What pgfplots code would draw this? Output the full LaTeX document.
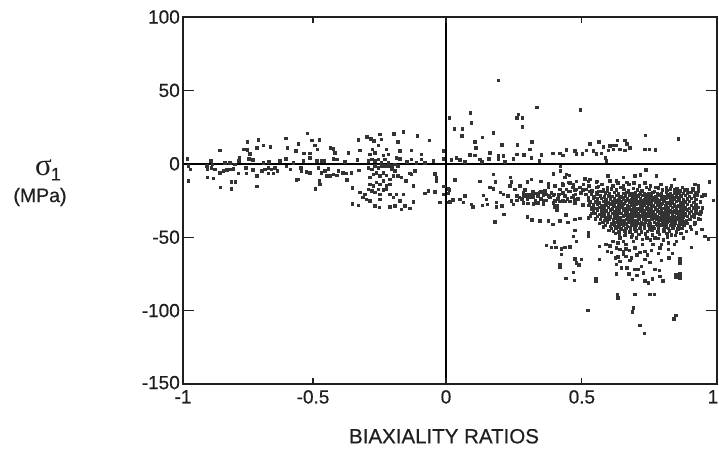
\documentclass[border=0pt]{standalone}
\usepackage{fontspec}
\setmainfont[FakeBold=0.35]{Liberation Sans}
\newfontfamily\lab[FakeBold=0.5]{Liberation Sans}
\newfontfamily\serifsym{Liberation Serif}
\usepackage{pgfplots}
\pgfplotsset{compat=1.18}
\definecolor{ink}{gray}{0.12}
\begin{document}
\begin{tikzpicture}[x=1pt,y=1pt]
\useasboundingbox (0,0) rectangle (719,450);
\begin{axis}[
  at={(183pt,66pt)}, anchor=south west, scale only axis, width=534pt, height=367pt,
  xmin=-1, xmax=1, ymin=-150, ymax=100,
  xtick=\empty,
  ytick={-150,-100,-50,0,50,100},
  yticklabels={\raisebox{3pt}{-150},-100,-50,0,50,100},
  major tick length=11pt,
  tick align=inside,
  tick style={line width=1.1pt,color=ink},
  axis line style={line width=1.3pt,color=ink},
  yticklabel style={font=\lab\fontsize{19}{22}\selectfont,text=ink,inner sep=0pt,xshift=-3pt},
  clip=false,
]
\addplot[only marks, mark=square*, mark size=1.25pt, color=black!80, mark options={line width=0pt}] coordinates {
(-.984,3.4)(-.980,-1.6)(-.971,-3.9)(-.980,-11.8)(-.909,-3.9)(-.896,1.8)(-.889,-.5)(-.893,-2.7)(-.911,-1.6)(-.880,-3.9)(-.908,-9.5)(-.886,-10)(-.861,9.1)(-.859,-16.3)(-.818,-17)(-.818,-12.5)(-.803,-12.5)(-.843,.7)(-.824,.7)(-.861,-6.1)(-.849,-5)(-.836,-4.3)(-.824,-3.9)(-.811,-3.4)(-.793,-6.6)(-.805,-.5)(-.789,4.1)(-.790,1.8)(-.772,9.8)(-.759,9.3)(-.758,14.7)(-.749,6.8)(-.753,3.4)(-.737,2.5)(-.722,10.9)(-.717,16.1)(-.698,12.5)(-.672,11.6)(-.722,-8.4)(-.722,-15.6)(-.764,-2.7)(-.762,-6.6)(-.737,-4.3)(-.705,-5)(-.693,-3.9)(-.680,-2.7)(-.668,-3.9)(-.655,-2.7)(-.647,-5)(-.662,-6.6)(-.680,-6.6)(-.699,.7)(-.677,1.1)(-.637,1.8)(-.615,17.2)(-.609,10.9)(-.614,3.4)(-.612,-2)(-.597,-3.9)(-.574,-11.1)(-.568,-10.7)(-.577,8.6)(-.568,13.6)(-.587,.7)(-.559,-2.7)(-.556,-5)(-.549,1.8)(-.547,7)(-.534,20.6)(-.524,7)(-.516,15.9)(-.506,12.5)(-.497,9.8)(-.489,16.1)(-.524,4.1)(-.537,-5.7)(-.524,-6.1)(-.503,-17)(-.489,-11.8)(-.487,-14.1)(-.499,1.8)(-.481,1.8)(-.472,1.8)(-.493,-2.7)(-.481,-6.1)(-.468,-5)(-.456,-3.4)(-.462,-8.4)(-.449,-8.4)(-.437,-7.3)(-.424,-7.9)(-.418,-5)(-.447,10.9)(-.437,10.2)(-.431,7.5)(-.437,3.4)(-.424,2.9)(-.393,1.1)(-.381,7.5)(-.4,-6.1)(-.387,-6.6)(-.368,-6.1)(-.385,-11.1)(-.366,-16.6)(-.343,16.1)(-.337,9.1)(-.347,2.5)(-.340,-4.5)(-.310,18.1)(-.296,17)(-.262,20)(-.256,16.6)(-.285,15.4)(-.268,12.5)(-.291,9.8)(-.3,6.3)(-.281,7.5)(-.237,9.8)(-.231,6.3)(-.250,5.7)(-.210,20.4)(-.175,21.8)(-.194,14.7)(-.187,8.6)(-.2,4.1)(-.187,3.4)(-.144,9.1)(-.122,18.8)(-.077,15.9)(-.106,6.3)(-.106,2.9)(-.144,2.9)(-.162,1.1)(-.125,.7)(-.094,.7)(-.062,1.8)(-.025,8.6)(-.025,3.4)(-.056,-6.8)(-.05,-11.8)(-.05,-9.5)(-.025,-15.6)(-.006,-17)(-.037,-26.5)(-.006,-26.5)(-.094,-20.2)(-.081,-18.6)(-.056,-19.3)(-.025,-20.9)(-.006,-20.4)(-.137,-15.2)(-.165,-11.8)(-.131,-5)(-.144,-7.3)(-.150,-6.6)(-.137,-26.1)(-.175,-20.9)(-.2,-20.9)(-.212,-23.1)(-.187,-25.4)(-.169,-28.8)(-.150,-30.6)(-.181,-31.1)(-.206,-28.8)(-.225,-29.3)(-.265,-29.9)(-.281,-28.8)(-.343,-28.3)(-.365,-27.4)(-.337,-19.7)(-.318,-20.9)(-.325,-23.1)(-.312,-24.3)(-.3,-25.4)(-.262,-24.3)(-.293,-18.6)(-.306,-17.5)
(-.306,1.8)(-.293,2.9)(-.281,1.8)(-.268,2.9)(-.256,.7)(-.243,2.9)(-.231,.7)(-.218,-1.6)(-.206,-.5)(-.194,-1.6)(-.306,-2.7)(-.293,-3.9)(-.281,-1.6)(-.268,-2.7)(-.256,-2)(-.243,-1.6)(-.231,-2)(-.218,-3.9)(-.206,-5)(-.194,-8.4)(-.181,-9.5)(-.3,-9.5)(-.287,-7.3)(-.275,-6.1)(-.262,-8.4)(-.25,-6.1)(-.237,-7.9)(-.225,-10.7)(-.212,-8.4)(-.3,-14.1)(-.287,-15.2)(-.275,-12.9)(-.262,-14.1)(-.25,-11.8)(-.237,-15.2)(-.225,-14.1)(-.281,-19.7)(-.268,-17.5)(-.25,-17.9)(-.237,-17.5)(-.225,-20.9)(-.262,-20.9)
(.181,56.7)(.325,38.5)(.489,36.7)(.077,34.7)(.081,27.7)(-.002,31.3)(.256,33.6)(.25,31.3)(.271,31.3)(.271,24.9)(.016,23.6)(.046,23.8)(.044,19)(.162,21.1)(.122,17.9)(.094,14.7)(.097,10.9)(.194,12.7)(.252,12.7)(.308,14.7)(.3,9.8)(.150,7.5)(.075,6.1)(.094,5.7)(.181,5.7)(.2,5.2)(.25,6.3)(.277,5.9)(.306,4.1)(.181,3.4)(.146,3.4)(.112,2.9)(.119,1.1)(.006,2.5)(.025,3.9)(.037,2.5)(.056,1.1)(.206,1.1)(.237,3.4)(.335,1.8)(.343,5.9)(.385,7)(.412,7)(.424,5.7)(.437,9.3)(.468,8.6)(.474,6.6)(.497,6.6)(.512,9.1)(.537,8.6)(.549,6.8)(.524,13.4)(.558,14.7)(.574,11.6)(.568,7)(.583,4.1)(.587,1.8)(.599,12)(.612,12.5)(.628,15.9)(.624,12.5)(.655,15.9)(.662,13.6)(.674,10.9)(.655,9.1)(.637,9.8)(.612,9.8)(.593,9.1)(.733,19.3)(.730,9.8)(.747,9.8)(.770,9.3)(.855,17)
(.414,-2)(.414,-5)(.387,-7)(.162,-7.3)(.019,-11.1)(.112,-12.2)(.171,-12.5)(.227,-9.5)(.231,-12.5)(.306,-10.7)(.290,-12.5)(.340,-12.2)(.368,-13.4)(.437,-7.3)(.431,-9.5)(.447,-7.9)(.422,-13.4)(.443,-12.9)(.506,-10.2)(.524,-10.7)(.549,-12.9)(.591,-8.4)(.599,-11.8)(.624,-11.8)(.649,-9.5)(.662,-12.9)(.693,-8.4)(.714,-7.7)(.734,-4.3)(.774,-8.4)(.840,-10.7)(.971,-12.5)(.918,-14.1)(.930,-15.2)(.150,-16.3)(.162,-17)(-.022,-15.6)(-.002,-17.9)(-.025,-20.9)(.012,-24.7)(0,-26.1)(.037,-24.3)(.056,-22)(.05,-26.5)(.081,-27.7)(.087,-29.3)(.125,-21.5)(.137,-24.3)(.122,-28.3)(.141,-27.7)(.175,-26.5)(.175,-29.3)(.194,-28.8)(.2,-20.9)(.19,-19.7)(.225,-15.2)(.243,-17.5)(.262,-15.2)(.218,-22)(.231,-25.4)(.237,-27.7)(.275,-19.7)(.287,-20.9)(.3,-23.1)(.312,-20.9)(.325,-20.2)(.337,-19.7)(.356,-18.6)(.368,-16.3)(.393,-15.2)(.412,-17.5)(.437,-17.5)(.462,-14.1)(.474,-17.5)(.487,-16.3)(.512,-17.5)(.531,-18.6)(.275,-26.5)(.293,-27.2)(.325,-27.2)(.35,-25.4)(.375,-23.1)(.393,-25.4)(.4,-28.8)(.424,-25.4)(.462,-22)(.468,-24.3)(.499,-28.3)(.518,-23.1)(.549,-19.7)(.203,-34.7)(.290,-36.1)(.308,-38.3)(.337,-39)(.368,-39)(.385,-41.3)(.412,-39)(.434,-34.9)(.441,-40.1)(.468,-37.9)(.487,-37.2)(.169,-39.7)(.4,-31.5)(.531,-31.1)(.527,-35.6)(.393,-29.3)
(.25,-22)(.26,-23)(.28,-22)(.3,-21)(.31,-23)(.33,-22)(.29,-24)(.32,-25)(.34,-24)(.36,-21)(.37,-22)(.38,-20)(.27,-24)(.25,-25)(.35,-21)(.39,-21)(.41,-21)(.43,-22)(.45,-19)(.47,-21)(.49,-20)(.46,-16)(.50,-14)(.52,-15)(.55,-16)(.57,-14)(.59,-16)(.61,-15)(.63,-13)(.65,-15)(.67,-14)(.69,-13)(.71,-15)(.73,-13)(.75,-15)(.77,-16)(.79,-14)(.81,-16)(.83,-15)(.85,-17)(.87,-16)(.89,-18)(.91,-17)(.93,-19)(.95,-21)(.92,-20)
(.518,-37)(.468,-45.4)(.462,-49.4)(.474,-52.8)(.518,-47.2)(.518,-49.4)(.362,-55.8)(.381,-56.9)(.397,-56.9)(.391,-53.1)(.418,-58)(.431,-56.9)(.449,-56.7)(.418,-61.9)(.412,-68.9)(.412,-70.3)(.468,-64.9)(.493,-65.3)(.474,-67.6)(.484,-68.9)(.462,-73.9)(.434,-78)(.466,-79.6)(.547,-78.5)(.547,-80)(.559,-65.3)(.559,-56.2)(.584,-55.1)(.589,-59.6)(.605,-60.3)(.624,-57.4)(.637,-58.5)(.659,-58)(.672,-59)(.649,-61.9)(.630,-63.5)(.637,-66.4)(.624,-68.7)(.643,-71)(.662,-71)(.680,-64.2)(.674,-66)(.693,-57.4)(.712,-60.3)(.730,-59.6)(.755,-59)(.787,-57.4)(.818,-58.5)(.834,-61.2)(.730,-65.3)(.749,-67.1)(.793,-65.8)(.861,-64.9)(.861,-67.6)(.718,-69.8)(.693,-72.1)(.705,-72.1)(.724,-74.4)(.768,-72.1)(.784,-72.6)(.787,-76.6)(.797,-80)(.730,-80)(.743,-81.2)(.759,-78.5)(.683,-78.9)(.624,-75.1)(.846,-75.5)(.861,-75.1)(.846,-77.1)(.861,-77.8)(.905,-56.9)(.627,-89.1)(.630,-91.4)(.693,-89.1)(.749,-88.9)(.765,-89.1)(.687,-98.2)(.684,-101.1)(.516,-99.8)(.846,-103.4)(.839,-105.7)(.712,-110.2)(.728,-115.6)
(.637,-50.6)(.630,-54)(.649,-52.8)(.687,-52.8)(.699,-50.6)(.737,-50.6)(.768,-50.6)(.793,-55.1)(.818,-54)(.849,-52.8)(.874,-50.6)(.905,-44.9)(.924,-47.2)(.943,-44.9)(.955,-49.4)(.968,-51.2)(.936,-38.1)(.936,-34.7)(.905,-35.8)(.918,-40.4)(.911,-17.7)(.93,-16.6)(.955,-21.1)(.986,-24.9)(.943,-22.2)
(.275,-21.1)(.293,-21.1)(.312,-20.4)(.331,-21.1)(.350,-21.1)(.368,-22.2)(.387,-21.1)(.406,-21.1)(.424,-20)(.443,-18.8)(.468,-17.7)(.275,-26.8)(.293,-27.2)(.312,-27.4)(.331,-26.8)(.350,-27.4)(.387,-26.8)(.4,-31.3)(.412,-25.6)(.431,-25.6)(.449,-25.6)(.468,-26.8)(.499,-27.9)(.518,-24.5)(.537,-23.4)(.531,-30.2)(.556,-26.8)(.368,-14.3)(.393,-15)(.424,-14.3)(.449,-13.2)(.474,-12)(.518,-12)(.55,-12)(.556,-15.4)(.499,-17.7)(.524,-18.8)
(.623,-18)(.651,-17.5)(.668,-18.6)(.702,-17.8)(.719,-18.4)(.748,-17.4)(.766,-18.7)(.795,-17.9)(.812,-18.3)(.843,-17.6)(.861,-18.5)(.878,-18)
(.582,-20)(.598,-20.5)(.617,-19.7)(.631,-20.6)(.649,-20.1)(.663,-19.6)(.681,-20.7)(.695,-20)(.714,-19.8)(.729,-20.6)(.746,-20.2)(.761,-19.7)(.778,-20.5)(.793,-20.1)(.811,-19.6)(.826,-20.7)(.842,-20)(.858,-19.8)(.875,-20.4)(.889,-20)
(.563,-22)(.579,-22.6)(.593,-21.8)(.608,-22.4)(.626,-21.7)(.641,-22.6)(.657,-22)(.673,-21.6)(.689,-22.5)(.704,-22)(.722,-21.7)(.737,-22.6)(.753,-21.9)(.769,-22.3)(.786,-21.6)(.801,-22.5)(.817,-22)(.834,-21.8)(.849,-22.6)(.866,-22)(.882,-21.6)(.897,-22.4)(.915,-22)
(.552,-24)(.568,-23.6)(.584,-24.5)(.601,-24)(.616,-23.7)(.633,-24.6)(.649,-24)(.665,-23.6)(.681,-24.5)(.696,-24.1)(.713,-23.7)(.729,-24.6)(.745,-24)(.761,-23.6)(.777,-24.4)(.793,-24.1)(.809,-23.6)(.825,-24.5)(.841,-24)(.857,-23.7)(.874,-24.6)(.889,-24)(.905,-23.6)(.922,-24.4)
(.544,-26)(.559,-26.6)(.576,-25.8)(.592,-26.3)(.608,-25.7)(.624,-26.5)(.641,-26)(.657,-25.6)(.673,-26.5)(.689,-26.1)(.705,-25.7)(.721,-26.6)(.737,-26)(.753,-25.7)(.769,-26.4)(.785,-26)(.801,-25.6)(.817,-26.5)(.833,-26.1)(.849,-25.7)(.866,-26.6)(.881,-26)(.897,-25.6)(.914,-26.4)
(.537,-28)(.552,-27.6)(.569,-28.5)(.585,-28.1)(.601,-27.7)(.616,-28.6)(.633,-28)(.649,-27.6)(.665,-28.5)(.681,-28)(.697,-27.7)(.713,-28.6)(.729,-28)(.745,-27.6)(.761,-28.4)(.777,-28.1)(.793,-27.6)(.809,-28.5)(.825,-28)(.841,-27.7)(.857,-28.6)(.873,-28)(.889,-27.6)(.905,-28.4)(.921,-28)
(.532,-30)(.546,-30.6)(.561,-29.8)(.577,-30.3)(.593,-29.7)(.609,-30.6)(.625,-30)(.641,-29.6)(.657,-30.5)(.673,-30.1)(.689,-29.7)(.705,-30.6)(.721,-30)(.737,-29.6)(.753,-30.4)(.769,-30)(.785,-29.6)(.801,-30.5)(.817,-30.1)(.833,-29.7)(.849,-30.6)(.865,-30)(.881,-29.6)(.897,-30.4)(.913,-30)(.928,-29.7)
(.538,-32)(.553,-31.6)(.569,-32.5)(.585,-32.1)(.601,-31.7)(.617,-32.6)(.633,-32)(.649,-31.6)(.665,-32.5)(.681,-32)(.697,-31.7)(.713,-32.6)(.729,-32)(.745,-31.6)(.761,-32.4)(.777,-32.1)(.793,-31.6)(.809,-32.5)(.825,-32)(.841,-31.7)(.857,-32.6)(.873,-32)(.889,-31.6)(.905,-32.4)(.921,-32)
(.543,-34)(.561,-34.6)(.577,-33.8)(.593,-34.3)(.609,-33.7)(.625,-34.6)(.641,-34)(.657,-33.6)(.673,-34.5)(.689,-34.1)(.705,-33.7)(.721,-34.6)(.737,-34)(.753,-33.6)(.769,-34.4)(.785,-34)(.801,-33.6)(.817,-34.5)(.833,-34.1)(.849,-33.7)(.865,-34.6)(.881,-34)(.897,-33.6)(.913,-34.4)(.927,-34)
(.553,-36)(.569,-35.6)(.585,-36.5)(.601,-36.1)(.617,-35.7)(.633,-36.6)(.649,-36)(.665,-35.6)(.681,-36.5)(.697,-36)(.713,-35.7)(.729,-36.6)(.745,-36)(.761,-35.6)(.777,-36.4)(.793,-36.1)(.809,-35.6)(.825,-36.5)(.841,-36)(.857,-35.7)(.873,-36.6)(.889,-36)(.916,-36.4)
(.564,-38)(.581,-38.6)(.597,-37.8)(.613,-38.3)(.629,-37.7)(.645,-38.6)(.661,-38)(.677,-37.6)(.693,-38.5)(.709,-38.1)(.725,-37.7)(.741,-38.6)(.757,-38)(.773,-37.6)(.789,-38.4)(.805,-38)(.821,-37.6)(.837,-38.5)(.853,-38.1)(.869,-37.7)(.885,-38.6)(.899,-38)
(.573,-40)(.589,-39.6)(.605,-40.5)(.621,-40.1)(.637,-39.7)(.653,-40.6)(.669,-40)(.685,-39.6)(.701,-40.5)(.717,-40)(.733,-39.7)(.749,-40.6)(.765,-40)(.781,-39.6)(.797,-40.4)(.813,-40.1)(.829,-39.6)(.845,-40.5)(.861,-40)(.877,-39.7)(.889,-40.6)
(.583,-42)(.601,-42.6)(.617,-41.8)(.633,-42.3)(.649,-41.7)(.665,-42.6)(.681,-42)(.697,-41.6)(.713,-42.5)(.729,-42.1)(.745,-41.7)(.761,-42.6)(.777,-42)(.793,-41.6)(.809,-42.4)(.825,-42)(.841,-41.6)(.857,-42.5)(.877,-42.1)
(.604,-44)(.622,-43.6)(.641,-44.5)(.659,-44.1)(.676,-43.7)(.693,-44.6)(.712,-44)(.729,-43.6)(.748,-44.5)(.765,-44)(.781,-43.7)(.801,-44.6)(.818,-44)(.836,-43.6)(.853,-44.4)(.868,-44.1)
(.612,-46)(.633,-46.6)(.655,-45.8)(.674,-46.3)(.697,-45.7)(.718,-46.6)(.739,-46)(.757,-45.6)(.779,-46.5)(.801,-46.1)(.822,-45.7)(.848,-46.6)
(.634,-48)(.657,-47.6)(.683,-48.5)(.708,-48.1)(.733,-47.7)(.759,-48.6)(.785,-48)(.812,-47.6)(.829,-48.4)
(.558,-19)(.575,-18)(.605,-17.2)(.64,-16.3)(.687,-16.8)(.735,-16.2)(.78,-16.6)(.826,-17)(.902,-19.5)(.925,-21.3)(.938,-26)(.945,-30)(.94,-33)(.93,-37.5)(.915,-41)(.90,-43)(.885,-46)(.865,-47.5)(.845,-49)(.815,-50)(.78,-51)(.75,-52)(.72,-51.5)(.68,-50)(.655,-49)(.62,-47.5)(.595,-45.5)(.575,-43)(.56,-40.5)(.545,-37.5)(.53,-34)(.52,-28.5)(.525,-26)(.54,-22.5)(.55,-20.5)
(.605,-31.2)(.613,-27)(.622,-33.1)(.637,-37)(.644,-29)(.652,-35.2)(.659,-25)(.667,-31)(.675,-39.5)(.683,-27)(.691,-33)(.699,-23)(.707,-37.2)(.715,-29)(.723,-35)(.731,-25.2)(.739,-31)(.747,-41)(.755,-27)(.763,-33)(.771,-23)(.779,-37)(.787,-29)(.795,-35)(.803,-25)(.811,-31)(.819,-39.2)(.827,-27)(.835,-33)(.843,-23)(.851,-37)(.859,-29)(.867,-35)(.875,-25)(.883,-31)(.609,-41)(.629,-43)(.645,-23)(.661,-41)(.677,-21)(.693,-43)(.709,-21)(.725,-41)(.741,-21)(.757,-43)(.773,-41)(.789,-21)(.805,-43)(.821,-21)(.837,-41)(.853,-23)(.869,-41)(.585,-25)(.577,-35)(.595,-27)(.569,-31)(.592,-37)(.601,-23)
(.44,-24)(.48,-24)(.51,-21)(.53,-21)(.455,-23)(.405,-24)(.36,-25)(.34,-19)(.31,-19)(.28,-18)(.57,-19)(.59,-18.5)(.61,-53)(.66,-55)(.72,-55)(.76,-55)(.80,-52)(.84,-55)(.62,-64)(.66,-63)(.70,-62)(.74,-62)(.78,-61)(.82,-64)(.60,-56)(.67,-75)(.70,-76)(.65,-60)
(.612,-29)(.628,-31)(.636,-27)(.652,-31)(.66,-33)(.668,-29)(.676,-35)(.684,-31)(.692,-25)(.7,-35)(.708,-31)(.716,-27)(.724,-33)(.732,-37)(.74,-27)(.748,-35)(.756,-29)(.764,-25)(.772,-31)(.78,-27)(.788,-33)(.796,-23)(.804,-37)(.812,-27)(.82,-33)(.828,-25)(.836,-37)(.844,-29)(.852,-33)(.86,-25)(.868,-31)(.876,-35)(.62,-37)(.636,-41)(.652,-39)(.668,-37)(.684,-41)(.7,-39)(.716,-41)(.732,-35)(.748,-39)(.764,-37)(.78,-41)(.796,-39)(.812,-35)(.828,-37)(.844,-39)(.86,-35)(.62,-25)(.636,-23)(.652,-27)(.668,-25)(.684,-23)(.7,-27)(.716,-25)(.732,-23)(.748,-25)(.764,-23)(.78,-25)(.796,-27)(.812,-23)(.828,-23)
};
\addplot[line width=1.5pt,color=black] coordinates {(-1,0)(1,0)};
\addplot[line width=1.3pt,color=black] coordinates {(-.015,-150)(-.015,100)};
\end{axis}
\begin{axis}[
  at={(183pt,66pt)}, anchor=south west, scale only axis, width=534pt, height=367pt,
  xmin=-1, xmax=1, ymin=-150, ymax=100,
  ytick=\empty,
  xtick={-1,-.513,-.015,.494,1},
  xticklabels={-1,-0.5,\raisebox{3pt}{0},0.5,\hspace*{-8pt}1},
  major tick length=6pt,
  tick align=inside,
  tick style={line width=1.1pt,color=ink},
  axis line style={line width=1.3pt,color=ink},
  xticklabel style={font=\lab\fontsize{19}{22}\selectfont,text=ink,inner sep=0pt,yshift=-6pt},
  xlabel={BIAXIALITY RATIOS},
  xlabel style={font=\lab\fontsize{20.5}{24}\selectfont,text=ink,yshift=-19pt,xshift=-6pt},
  clip=false,
]
\end{axis}
\node[text=ink,inner sep=0pt] at (48,280) {\serifsym\fontsize{31}{32}\selectfont σ\kern-1pt\raisebox{-5pt}{\lab\fontsize{18}{20}\selectfont 1}};
\node[text=ink,inner sep=0pt] at (40,253) {\lab\fontsize{19.5}{22}\selectfont (MPa)};
\end{tikzpicture}
\end{document}
